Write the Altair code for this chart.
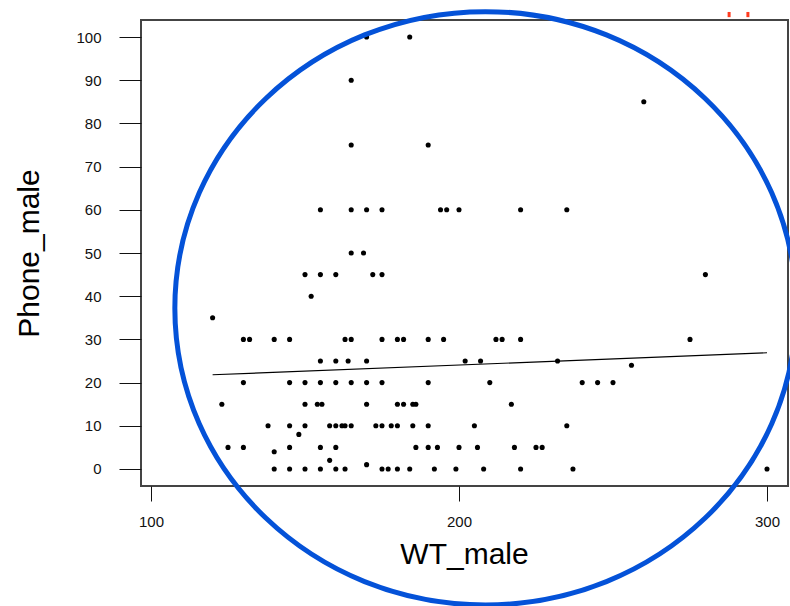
import altair as alt
import pandas as pd

# ---- data (WT_male, Phone_male) ----
wt_100 = [170, 184]
wt_90 = [165]
wt_85 = [260]
wt_75 = [165, 190]
wt_60 = [155, 165, 170, 175, 194, 196, 200, 220, 235]
wt_50 = [165, 169]
wt_45 = [150, 155, 160, 172, 175, 280]
wt_40 = [152]
wt_35 = [120]
wt_30 = [130, 132, 140, 145, 163, 165, 175, 180, 182, 190, 195, 212, 214, 220, 275]
wt_25 = [155, 160, 164, 170, 202, 207, 232]
wt_24 = [256]
wt_20 = [130, 145, 150, 155, 160, 165, 170, 175, 190, 210, 240, 245, 250]
wt_15 = [123, 150, 154, 155.5, 170, 180, 182, 185, 186, 217]
wt_10 = [138, 145, 150, 158, 160, 162, 163, 165, 173, 175, 178, 180, 185, 190, 205, 235]
wt_8 = [148]
wt_5 = [125, 130, 145, 155, 160, 186, 190, 193, 200, 206, 218, 225, 227]
wt_4 = [140]
wt_2 = [158]
wt_1 = [170]
wt_0 = [140, 145, 150, 155, 160, 163, 175, 177, 180, 184, 192, 199, 208, 220, 237, 300]

rows = [
    (100, wt_100), (90, wt_90), (85, wt_85), (75, wt_75), (60, wt_60), (50, wt_50),
    (45, wt_45), (40, wt_40), (35, wt_35), (30, wt_30), (25, wt_25), (24, wt_24),
    (20, wt_20), (15, wt_15), (10, wt_10), (8, wt_8), (5, wt_5), (4, wt_4),
    (2, wt_2), (1, wt_1), (0, wt_0),
]

# fitted line end points
fit_wt = [120, 300]
fit_phone = [21.8, 26.9]

# annotation: blue ellipse centre, red marks at top
ellipse_wt = [208.6]
ellipse_phone = [37.2]
red_wt = [287.7, 293.8]
red_top = [105.8, 105.8]
red_bottom = [104.6, 104.6]

y_ticks = [0, 10, 20, 30, 40, 50, 60, 70, 80, 90, 100]
x_ticks = [100, 200, 300]

pts = pd.DataFrame(
    [{"WT_male": w, "Phone_male": v} for v, ws in rows for w in ws]
)
fit = pd.DataFrame({"WT_male": fit_wt, "Phone_male": fit_phone})
ell = pd.DataFrame({"WT_male": ellipse_wt, "Phone_male": ellipse_phone})
red = pd.DataFrame({"WT_male": red_wt, "top": red_top, "bottom": red_bottom})

FONT = "Liberation Sans"
xs = alt.Scale(domain=[96.75, 306.82], nice=False, zero=False)
ys = alt.Scale(domain=[-3.94, 103.94], nice=False, zero=False)

x_axis = alt.Axis(
    values=x_ticks, title="WT_male", domain=False, grid=False,
    tickSize=15, tickColor="#111111", tickWidth=1,
    labelFont=FONT, labelFontSize=15, labelColor="#111111", labelPadding=13,
    titleFont=FONT, titleFontSize=30, titleFontWeight="normal", titleColor="black",
    titleX=323, titleY=68, titleBaseline="middle", titleAlign="center",
)
y_axis = alt.Axis(
    values=y_ticks, title="Phone_male", domain=False, grid=False,
    tickSize=22, tickColor="#111111", tickWidth=1,
    labelFont=FONT, labelFontSize=15, labelColor="#111111", labelPadding=18,
    titleFont=FONT, titleFontSize=30, titleFontWeight="normal", titleColor="black",
    titleX=-112, titleY=233, titleBaseline="middle", titleAlign="center", titleAngle=270,
)

points = alt.Chart(pts).mark_circle(size=26, color="black", opacity=1).encode(
    x=alt.X("WT_male:Q", scale=xs, axis=x_axis),
    y=alt.Y("Phone_male:Q", scale=ys, axis=y_axis),
)

line = alt.Chart(fit).mark_line(color="black", strokeWidth=1.1).encode(
    x=alt.X("WT_male:Q", scale=xs),
    y=alt.Y("Phone_male:Q", scale=ys),
)

ellipse = alt.Chart(ell).mark_point(
    shape="M-1,0A1,0.955,0,1,1,1,0A1,0.955,0,1,1,-1,0Z",
    size=386000, filled=False, strokeWidth=5, color="#0452d8", opacity=1,
).encode(
    x=alt.X("WT_male:Q", scale=xs),
    y=alt.Y("Phone_male:Q", scale=ys),
)

redmarks = alt.Chart(red).mark_rule(color="#ff3b1f", strokeWidth=3).encode(
    x=alt.X("WT_male:Q", scale=xs),
    y=alt.Y("top:Q", scale=ys),
    y2="bottom:Q",
)

chart = (
    alt.layer(points, line, ellipse, redmarks)
    .properties(
        width=647, height=466,
        autosize=alt.AutoSizeParams(type="none"),
        padding={"left": 141, "top": 20, "right": 2, "bottom": 120},
        background="white",
    )
    .configure_view(stroke="#444444", strokeWidth=2)
)

chart.save("out.html", embed_options={"renderer": "svg", "actions": False})
